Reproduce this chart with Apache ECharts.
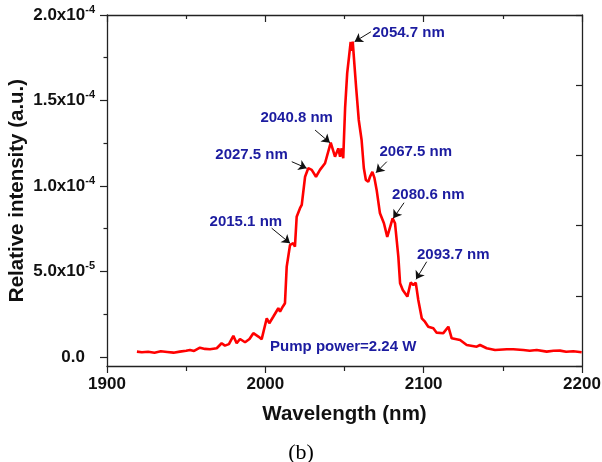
<!DOCTYPE html>
<html><head><meta charset="utf-8">
<script src="https://cdn.jsdelivr.net/npm/echarts@6/dist/echarts.min.js"></script>
<style>html,body{margin:0;padding:0;background:#fff}#c{width:602px;height:462px}</style>
</head><body><div id="c"></div>
<script>
// Wavelength (nm)
const wavelength = [1918.9,1922,1926,1930,1934,1938,1942,1946,1950,1952.4,1955,1958.7,1961.9,1965,1969.3,1972.4,1974.5,1977,1979.8,1981.9,1984.0,1987.2,1990,1992.4,1995.6,1997.7,2000.9,2002.5,2005,2008.2,2009.3,2011.0,2012.4,2013.5,2015.6,2017.7,2018.7,2019.8,2021.9,2023.0,2025.1,2027.1,2029.3,2032.0,2034.5,2037.7,2041.3,2044.0,2046.1,2047.2,2048.2,2049.2,2050.4,2051.7,2052.9,2053.9,2054.5,2055.2,2056.1,2057.4,2059.0,2060.8,2062.2,2063.5,2065.0,2066.3,2067.6,2068.9,2070.3,2072.4,2073.5,2074.9,2077.0,2080.4,2081.9,2084.0,2085.1,2086.8,2089.7,2091.8,2093.5,2095.0,2096.6,2098.8,2100.8,2102.9,2106.1,2108.2,2112.4,2115.6,2117.7,2123.0,2127.2,2133.5,2135.6,2139.8,2145.1,2152.5,2156.6,2162.9,2167,2171.4,2177.7,2182,2186.1,2190,2194.5,2199.8];
// Relative intensity, in units of 1e-5 a.u.
const intensityE5 = [0.31,0.27,0.30,0.25,0.33,0.29,0.25,0.31,0.36,0.41,0.35,0.54,0.47,0.45,0.51,0.80,0.66,0.75,1.23,0.80,1.05,0.86,1.05,1.39,1.19,1.04,2.26,1.97,2.35,2.85,2.65,2.94,3.14,5.28,6.55,6.65,6.45,8.20,8.70,8.89,10.54,11.04,10.94,10.54,10.94,11.33,12.53,11.71,12.20,11.71,12.20,11.62,14.6,16.6,17.6,18.42,17.9,18.44,17.3,15.7,13.86,12.69,11.05,10.35,10.25,10.58,10.82,10.47,9.77,8.40,8.50,7.82,7.02,8.11,7.82,5.87,4.31,3.92,3.53,4.35,4.21,4.35,3.33,2.26,2.06,1.77,1.68,1.42,1.39,1.77,1.09,0.99,0.70,0.60,0.70,0.51,0.41,0.45,0.45,0.41,0.36,0.41,0.31,0.36,0.37,0.30,0.33,0.27];
const E5 = 1e-5;

const xTickValues = [1900, 2000, 2100, 2200];
const yTickValues = [0, 5e-5, 1e-4, 1.5e-4, 2e-4];
const yTickMantissa = ['0.0', '5.0', '1.0', '1.5', '2.0'];
const yTickExponent = ['', '-5', '-4', '-4', '-4'];
const yMinorTickValues = [2.5e-5, 7.5e-5, 1.25e-4, 1.75e-4];

// Peak annotations: text, text centre [nm, 1e-5], arrow start, arrow tip
const annotText = ['2054.7 nm','2040.8 nm','2027.5 nm','2067.5 nm','2080.6 nm','2093.7 nm','2015.1 nm','Pump power=2.24 W'];
const annotPos = [[2090.4,18.95],[2019.8,13.98],[1991.3,11.81],[2095.0,11.97],[2102.9,9.47],[2118.7,5.96],[1987.7,7.91],[2049.2,0.60]];
const arrowFrom = [[2066.7,19.02],[2031.4,13.27],[2016.7,11.42],[2076.7,11.42],[2087.6,9.02],[2101.9,5.57],[2004.0,7.53]];
const arrowTo   = [[2056.4,18.44],[2040.8,12.53],[2026.1,11.04],[2069.9,10.78],[2080.8,8.11],[2095.2,4.54],[2015.6,6.65]];

const seriesData = wavelength.map((w, i) => [w, intensityE5[i] * E5]);
const AX = '#222';
const FONT = '"Liberation Sans", Arial, sans-serif';
const annColor = '#1c1ca0';

const chart = echarts.init(document.getElementById('c'), null, {renderer: 'canvas'});
chart.setOption({
  animation: false,
  backgroundColor: '#fff',
  title: {
    text: '(b)', left: 'center', top: 437,
    textStyle: {fontFamily: '"Liberation Serif", "Times New Roman", serif', fontSize: 22, fontWeight: 'normal', color: '#000'}
  },
  grid: {left: 107, right: 20, top: 15, bottom: 96, containLabel: false, outerBoundsMode: 'none'},
  xAxis: [{
    type: 'value', position: 'bottom', min: 1900, max: 2200, interval: 100,
    name: 'Wavelength (nm)', nameLocation: 'middle', nameGap: 38, nameMoveOverlap: false,
    nameTextStyle: {fontFamily: FONT, fontSize: 20.5, fontWeight: 'bold', color: '#111'},
    axisLine: {show: true, onZero: false, lineStyle: {color: AX, width: 1.3}},
    axisTick: {show: true, inside: false, length: 7, lineStyle: {color: AX, width: 1.2}},
    minorTick: {show: true, splitNumber: 2, length: 5, lineStyle: {color: AX, width: 1.2}},
    axisLabel: {show: true, margin: 10, fontFamily: FONT, fontSize: 17, fontWeight: 'bold', color: '#111',
      formatter: v => xTickValues.includes(v) ? String(v) : ''},
    splitLine: {show: false}
  }, {
    type: 'value', position: 'top', min: 1900, max: 2200, interval: 100,
    axisLine: {show: true, onZero: false, lineStyle: {color: AX, width: 1.3}},
    axisTick: {show: true, inside: true, length: 7, lineStyle: {color: AX, width: 1.2}},
    minorTick: {show: true, splitNumber: 2, length: 4, lineStyle: {color: AX, width: 1.2}},
    axisLabel: {show: false}, splitLine: {show: false}
  }],
  yAxis: [{
    type: 'value', position: 'left', min: -5.3e-6, max: 2e-4,
    name: 'Relative intensity (a.u.)', nameLocation: 'middle', nameGap: 79, nameRotate: 90, nameMoveOverlap: false,
    nameTextStyle: {fontFamily: FONT, fontSize: 20.5, fontWeight: 'bold', color: '#111'},
    axisLine: {show: true, onZero: false, lineStyle: {color: AX, width: 1.3}},
    axisTick: {show: true, inside: false, length: 7, customValues: yTickValues, lineStyle: {color: AX, width: 1.2}},
    axisLabel: {
      show: true, margin: 12, customValues: yTickValues,
      formatter: v => {
        let k = 0, best = Infinity;
        yTickValues.forEach((t, i) => { const d = Math.abs(t - v); if (d < best) { best = d; k = i; } });
        if (!yTickExponent[k]) return '{b|' + yTickMantissa[k] + '}{sp| }';
        return '{b|' + yTickMantissa[k] + 'x10}{sup|' + yTickExponent[k] + '}';
      },
      rich: {
        b: {fontFamily: FONT, fontSize: 17, fontWeight: 'bold', color: '#111', lineHeight: 22},
        sup: {fontFamily: FONT, fontSize: 11, fontWeight: 'bold', color: '#111', verticalAlign: 'top', lineHeight: 12},
        sp: {fontFamily: FONT, fontSize: 11, width: 10}
      }
    },
    splitLine: {show: false}
  }, {
    type: 'value', position: 'right', min: 0, max: 5, interval: 1,
    axisLine: {show: true, onZero: false, lineStyle: {color: AX, width: 1.3}},
    axisTick: {show: true, inside: true, length: 6, lineStyle: {color: AX, width: 1.2}},
    axisLabel: {show: false}, splitLine: {show: false}
  }, {
    type: 'value', position: 'left', min: -5.3e-6, max: 2e-4,
    axisLine: {show: false},
    axisTick: {show: true, inside: false, length: 3.5, customValues: yMinorTickValues, lineStyle: {color: AX, width: 1.2}},
    axisLabel: {show: false}, splitLine: {show: false}
  }],
  series: [{
    type: 'line', xAxisIndex: 0, yAxisIndex: 0,
    data: seriesData, symbol: 'none', smooth: false,
    lineStyle: {color: '#ff0000', width: 2.6},
    emphasis: {disabled: true},
    markLine: {
      silent: true, animation: false,
      symbol: ['none', 'arrow'], symbolSize: 8,
      lineStyle: {color: '#111', width: 1, type: 'solid'},
      itemStyle: {color: '#111'},
      label: {show: false}, emphasis: {disabled: true},
      data: arrowFrom.map((f, i) => [
        {coord: [f[0], f[1] * E5]},
        {coord: [arrowTo[i][0], arrowTo[i][1] * E5]}
      ])
    },
    markPoint: {
      silent: true, animation: false,
      symbol: 'rect', symbolSize: 1,
      itemStyle: {color: 'rgba(0,0,0,0)'},
      label: {show: true, position: 'inside', fontFamily: FONT, fontSize: 15, fontWeight: 'bold', color: annColor,
        formatter: p => p.name},
      data: annotText.map((t, i) => ({name: t, coord: [annotPos[i][0], annotPos[i][1] * E5]}))
    }
  }]
});
</script></body></html>
